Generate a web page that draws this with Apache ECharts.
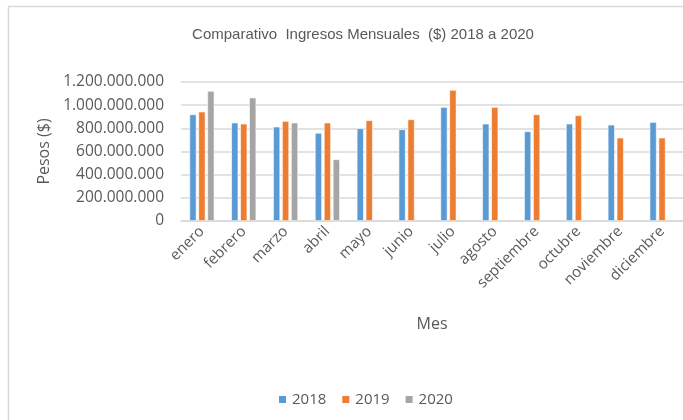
<!DOCTYPE html>
<html><head><meta charset="utf-8">
<script src="https://cdn.jsdelivr.net/npm/echarts@6/dist/echarts.min.js"></script>
<style>html,body{margin:0;padding:0;background:#fff}#c{width:683px;height:420px}</style>
</head><body><div id="c"></div>
<script>
const months = ['enero','febrero','marzo','abril','mayo','junio','julio','agosto','septiembre','octubre','noviembre','diciembre'];
const s2018 = [920000000,849000000,814000000,760000000,800000000,791000000,984000000,840000000,774000000,840000000,831000000,854000000];
const s2019 = [944000000,840000000,863000000,849000000,869000000,877000000,1131000000,984000000,920000000,912000000,719000000,719000000];
const s2020 = [1122000000,1065000000,849000000,532000000,null,null,null,null,null,null,null,null];
const yTicks = [0,200000000,400000000,600000000,800000000,1000000000,1200000000];

function fmt(v){return String(v).replace(/\B(?=(\d{3})+(?!\d))/g,'.');}
const chart = echarts.init(document.getElementById('c'));
const txt = '#595959';
const barBase = {type:'bar', barWidth:7, barGap:'28%', itemStyle:{borderColor:'#fff',borderWidth:0.6}};
chart.setOption({
  animation:false,
  graphic:[{type:'rect',shape:{x:8.5,y:6.5,width:700,height:440},style:{fill:'none',stroke:'#d9d9d9',lineWidth:1.5},silent:true}],
  title:{text:'Comparativo  Ingresos Mensuales  ($) 2018 a 2020',left:358,top:22,textAlign:'center',
    textStyle:{fontFamily:'Liberation Sans',fontSize:15,fontWeight:'normal',color:txt}},
  legend:{bottom:8,left:272,itemWidth:9,itemHeight:9,itemGap:14,icon:'rect',
    textStyle:{fontFamily:'Open Sans',fontSize:15,color:txt},
    data:['2018','2019','2020']},
  grid:{left:181,top:82,width:504,bottom:199,containLabel:false},
  xAxis:{type:'category',data:months,name:'Mes',nameLocation:'middle',nameGap:95,
    nameTextStyle:{fontFamily:'Open Sans',fontSize:16,color:txt},
    axisLine:{lineStyle:{color:'#d9d9d9',width:1.5}},axisTick:{show:false},
    axisLabel:{rotate:45,fontFamily:'Open Sans',fontSize:15,color:txt,margin:8,interval:0}},
  yAxis:{type:'value',min:0,max:1200000000,interval:200000000,name:'Pesos ($)',nameLocation:'middle',nameGap:127,
    nameTextStyle:{fontFamily:'Open Sans',fontSize:16,color:txt},
    axisLine:{show:false},axisTick:{show:false},
    splitLine:{lineStyle:{color:'#d9d9d9',width:1.5}},
    axisLabel:{fontFamily:'Open Sans',fontSize:15.5,color:txt,margin:17,formatter:v=>fmt(v)}},
  series:[
    Object.assign({name:'2018',data:s2018,color:'#5B9BD5'},barBase),
    Object.assign({name:'2019',data:s2019,color:'#ED7D31'},barBase),
    Object.assign({name:'2020',data:s2020,color:'#A5A5A5'},barBase)
  ]
});
</script></body></html>
